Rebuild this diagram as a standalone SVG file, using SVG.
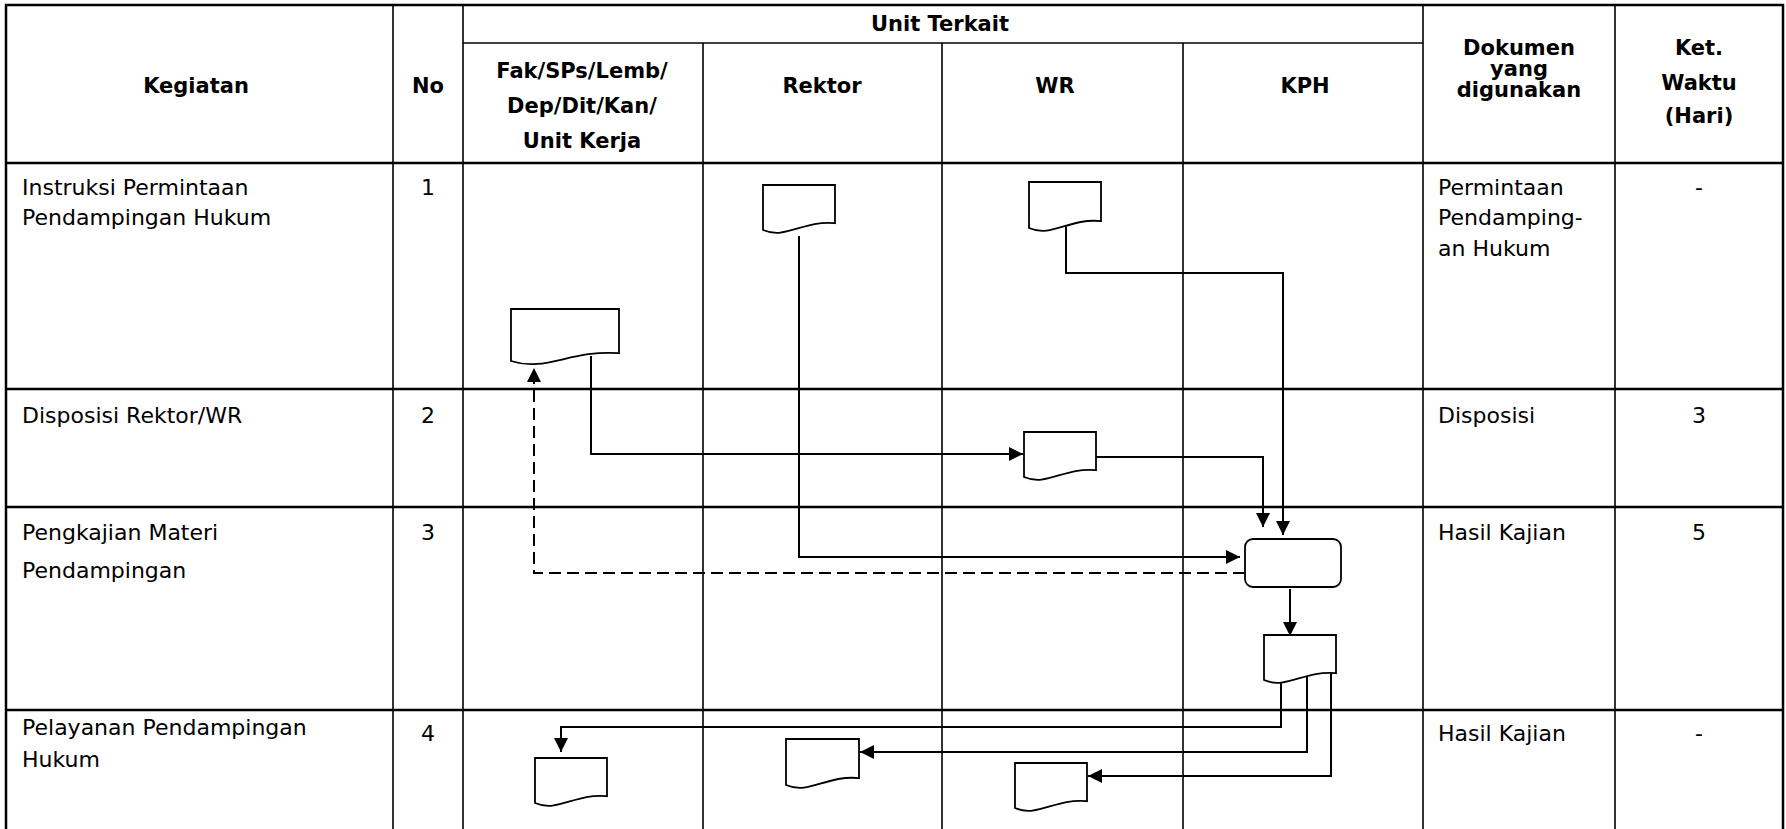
<svg xmlns="http://www.w3.org/2000/svg" width="1786" height="829" viewBox="0 0 1786 829">
<style>
  .grid { stroke: #000; fill: none; }
  .thick { stroke-width: 2.5; }
  .thin { stroke-width: 1.6; }
  .hd { font-family: "DejaVu Sans", Verdana, sans-serif; font-weight: bold; font-size: 21px; fill: #000; text-anchor: middle; }
  .tx { font-family: "DejaVu Sans", Verdana, sans-serif; font-size: 22px; fill: #000; }
  .txc { font-family: "DejaVu Sans", Verdana, sans-serif; font-size: 22px; fill: #000; text-anchor: middle; }
  .shape { fill: #fff; stroke: #000; stroke-width: 1.8; }
  .conn { fill: none; stroke: #000; stroke-width: 2; marker-end: url(#arrow); }
  .dash { stroke-dasharray: 12 6; }
</style>
<defs>
  <marker id="arrow" markerUnits="userSpaceOnUse" viewBox="0 0 14 14" markerWidth="14" markerHeight="14" refX="14" refY="7" orient="auto">
    <path d="M0,0 L14,7 L0,14 Z" fill="#000"/>
  </marker>
</defs>
<rect x="0" y="0" width="1786" height="829" fill="#fff"/>

<g id="table">
  <path class="grid thick" d="M6,829 V5 H1783 V829"/>
  <path class="grid thin" d="M393,5 V829 M463,5 V829 M1423,5 V829 M1615,5 V829"/>
  <path class="grid thin" d="M703,43 V829 M942,43 V829 M1183,43 V829"/>
  <path class="grid thin" d="M463,43 H1423"/>
  <path class="grid thick" d="M6,163 H1783 M6,389 H1783 M6,507 H1783 M6,710 H1783"/>
</g>

<g id="header">
  <text class="hd" x="196" y="93">Kegiatan</text>
  <text class="hd" x="428" y="93">No</text>
  <text class="hd" x="940" y="31">Unit Terkait</text>
  <text class="hd" x="582" y="78">Fak/SPs/Lemb/</text>
  <text class="hd" x="582" y="113">Dep/Dit/Kan/</text>
  <text class="hd" x="582" y="148">Unit Kerja</text>
  <text class="hd" x="822" y="93">Rektor</text>
  <text class="hd" x="1055" y="93">WR</text>
  <text class="hd" x="1305" y="93">KPH</text>
  <text class="hd" x="1519" y="55">Dokumen</text>
  <text class="hd" x="1519" y="76">yang</text>
  <text class="hd" x="1519" y="97">digunakan</text>
  <text class="hd" x="1699" y="55">Ket.</text>
  <text class="hd" x="1699" y="90">Waktu</text>
  <text class="hd" x="1699" y="123">(Hari)</text>
</g>

<g id="row1">
  <text class="tx" x="22" y="195">Instruksi Permintaan</text>
  <text class="tx" x="22" y="225">Pendampingan Hukum</text>
  <text class="txc" x="428" y="195">1</text>
  <text class="tx" x="1438" y="195">Permintaan</text>
  <text class="tx" x="1438" y="225">Pendamping-</text>
  <text class="tx" x="1438" y="256">an Hukum</text>
  <text class="txc" x="1699" y="195">-</text>
</g>
<g id="row2">
  <text class="tx" x="22" y="423">Disposisi Rektor/WR</text>
  <text class="txc" x="428" y="423">2</text>
  <text class="tx" x="1438" y="423">Disposisi</text>
  <text class="txc" x="1699" y="423">3</text>
</g>
<g id="row3">
  <text class="tx" x="22" y="540">Pengkajian Materi</text>
  <text class="tx" x="22" y="578">Pendampingan</text>
  <text class="txc" x="428" y="540">3</text>
  <text class="tx" x="1438" y="540">Hasil Kajian</text>
  <text class="txc" x="1699" y="540">5</text>
</g>
<g id="row4">
  <text class="tx" x="22" y="735">Pelayanan Pendampingan</text>
  <text class="tx" x="22" y="767">Hukum</text>
  <text class="txc" x="428" y="741">4</text>
  <text class="tx" x="1438" y="741">Hasil Kajian</text>
  <text class="txc" x="1699" y="741">-</text>
</g>

<g id="connectors">
  <path class="conn" d="M799,236 V557 H1240"/>
  <path class="conn" d="M1066,224 V273 H1283 V535"/>
  <path class="conn" d="M591,356 V454 H1023"/>
  <path class="conn" d="M1096,457 H1263 V527"/>
  <path class="conn dash" d="M1245,573 H534 V368"/>
  <path class="conn" d="M1290,589 V636"/>
  <path class="conn" d="M1281,681 V727 H561 V752"/>
  <path class="conn" d="M1307,677 V752 H860"/>
  <path class="conn" d="M1331,673 V776 H1088"/>
</g>

<g id="doc-rektor-1"><path class="shape" d="M763,185 H835 V223.2 C802.6,220.1 786,239.9 763,230 Z"/></g>
<g id="doc-wr-1"><path class="shape" d="M1029,182 H1101 V221.1 C1068.6,217.9 1052,238.1 1029,228 Z"/></g>
<g id="doc-fak-1"><path class="shape" d="M511,309 H619 V353.2 C570.4,349.6 545.6,372.4 511,361 Z"/></g>
<g id="doc-wr-2"><path class="shape" d="M1024,432 H1096 V470.2 C1063.6,467.1 1047,486.9 1024,477 Z"/></g>
<g id="process-kph"><rect class="shape" x="1245" y="539" width="96" height="48" rx="8" ry="8"/></g>
<g id="doc-kph-3"><path class="shape" d="M1264,635 H1336 V673.2 C1303.6,670.1 1287,689.9 1264,680 Z"/></g>
<g id="doc-fak-4"><path class="shape" d="M535,758 H607 V796.2 C574.6,793.1 558,812.9 535,803 Z"/></g>
<g id="doc-rektor-4"><path class="shape" d="M786,739 H859 V778.1 C826.2,774.9 809.4,795.1 786,785 Z"/></g>
<g id="doc-wr-4"><path class="shape" d="M1015,763 H1087 V801.2 C1054.6,798.1 1038,817.9 1015,808 Z"/></g>
</svg>
